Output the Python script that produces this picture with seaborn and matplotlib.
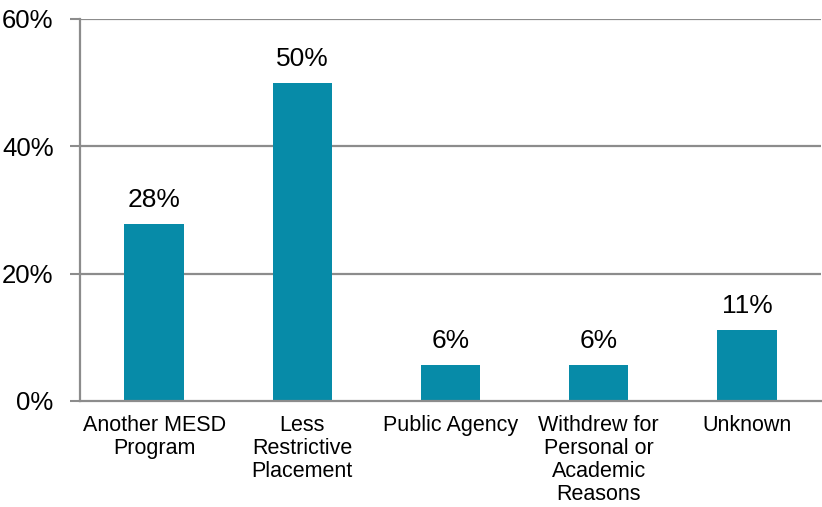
import matplotlib
matplotlib.use('Agg')
import matplotlib.pyplot as plt
import seaborn as sns
import pandas as pd
import numpy as np
from matplotlib.ticker import FuncFormatter, FixedLocator

categories = ['Another MESD\nProgram', 'Less\nRestrictive\nPlacement', 'Public Agency',
              'Withdrew for\nPersonal or\nAcademic\nReasons', 'Unknown']
values = [27.8, 50.0, 5.6, 5.6, 11.1]
yticks = [0, 20, 40, 60]

df = pd.DataFrame({'category': categories, 'value': values})

sns.set_style('white')
plt.rcParams['font.family'] = ['Liberation Sans', 'DejaVu Sans']
plt.rcParams['text.color'] = 'black'
plt.rcParams['xtick.color'] = 'black'
plt.rcParams['ytick.color'] = 'black'

fig = plt.figure(figsize=(8.22, 5.07), dpi=100)
ax = fig.add_axes([80 / 822, 106 / 507, 741 / 822, 382 / 507])
ax.set_axisbelow(True)

grid_col = '#8C8C8C'
for y in yticks[1:]:
    ax.axhline(y, color=grid_col, lw=1.6, zorder=0)

sns.barplot(data=df, x='category', y='value', color='#078BA8', width=0.4,
            saturation=1, linewidth=0, ax=ax, zorder=3)

ax.set_ylim(0, 60)
ax.set_xlim(-0.5, len(categories) - 0.5)
ax.set_yticks(yticks)
ax.yaxis.set_major_formatter(FuncFormatter(lambda v, p: f'{v:.0f}%'))

for i, v in enumerate(values):
    ax.text(i, v + 1.9, f'{v:.0f}%', ha='center', va='bottom', fontsize=19)

ax.xaxis.set_minor_locator(FixedLocator(np.arange(-0.5, len(categories), 1.0)))
ax.tick_params(axis='x', which='major', length=0, pad=10, labelsize=15.5)
ax.tick_params(axis='x', which='minor', length=6, width=1.5, color=grid_col)
ax.tick_params(axis='y', which='major', length=7, width=1.5, color=grid_col,
               labelcolor='black', labelsize=18.5, left=True, pad=12)
for lab in ax.get_xticklabels():
    lab.set_linespacing(1.13)

ax.set_xlabel('')
ax.set_ylabel('')
for s in ['top', 'right']:
    ax.spines[s].set_visible(False)
for s in ['left', 'bottom']:
    ax.spines[s].set_color(grid_col)
    ax.spines[s].set_linewidth(1.6)
    ax.spines[s].set_zorder(4)

fig.savefig('out.png', dpi=100)
